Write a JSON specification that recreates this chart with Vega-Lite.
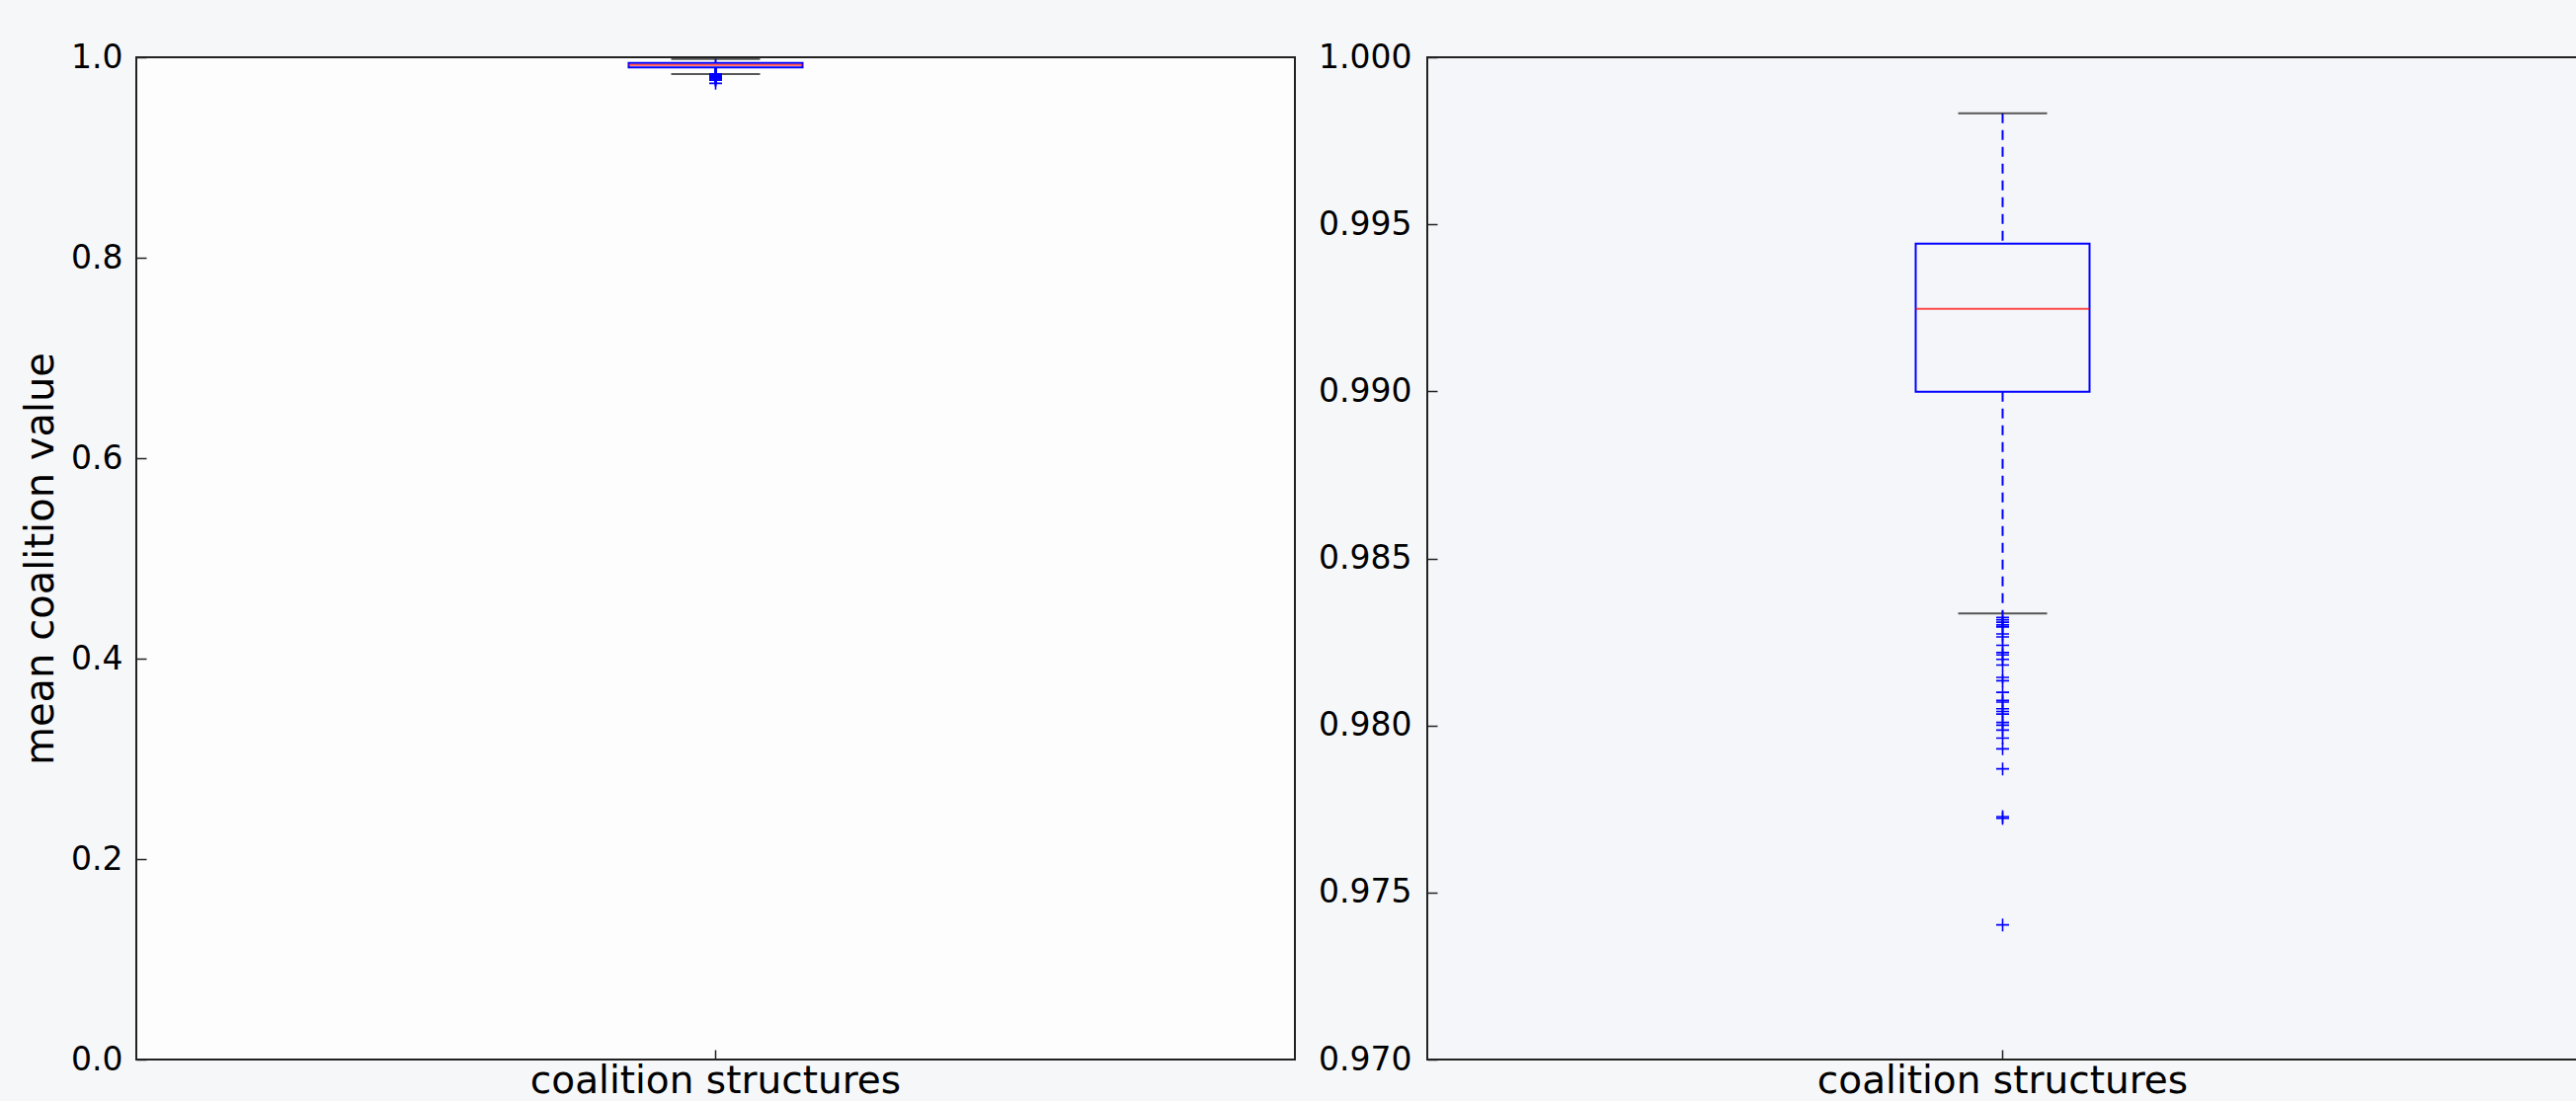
{
  "$schema": "https://vega.github.io/schema/vega-lite/v6.json",
  "autosize": {"type": "pad"},
  "padding": {"left": 20, "top": 41, "right": 0, "bottom": 0},
  "background": "#f6f7f9",
  "bounds": "flush",
  "spacing": 134,
  "datasets": {
    "stats": [
      {"cat": "coalition structures", "lower": 0.98335, "q1": 0.98999, "median": 0.99247, "q3": 0.99442, "upper": 0.99832}
    ],
    "outliers": [
      {"cat": "coalition structures", "value": 0.98323},
      {"cat": "coalition structures", "value": 0.98316},
      {"cat": "coalition structures", "value": 0.98309},
      {"cat": "coalition structures", "value": 0.98301},
      {"cat": "coalition structures", "value": 0.98295},
      {"cat": "coalition structures", "value": 0.98274},
      {"cat": "coalition structures", "value": 0.98265},
      {"cat": "coalition structures", "value": 0.98240},
      {"cat": "coalition structures", "value": 0.98218},
      {"cat": "coalition structures", "value": 0.98211},
      {"cat": "coalition structures", "value": 0.98198},
      {"cat": "coalition structures", "value": 0.98181},
      {"cat": "coalition structures", "value": 0.98144},
      {"cat": "coalition structures", "value": 0.98134},
      {"cat": "coalition structures", "value": 0.98099},
      {"cat": "coalition structures", "value": 0.98075},
      {"cat": "coalition structures", "value": 0.98070},
      {"cat": "coalition structures", "value": 0.98050},
      {"cat": "coalition structures", "value": 0.98042},
      {"cat": "coalition structures", "value": 0.98034},
      {"cat": "coalition structures", "value": 0.98009},
      {"cat": "coalition structures", "value": 0.98001},
      {"cat": "coalition structures", "value": 0.97986},
      {"cat": "coalition structures", "value": 0.97962},
      {"cat": "coalition structures", "value": 0.97930},
      {"cat": "coalition structures", "value": 0.97870},
      {"cat": "coalition structures", "value": 0.97727},
      {"cat": "coalition structures", "value": 0.97722},
      {"cat": "coalition structures", "value": 0.97403}
    ]
  },
  "config": {
    "font": "DejaVu Sans",
    "view": {"stroke": "#222222", "strokeWidth": 2},
    "axis": {
      "grid": false,
      "domain": false,
      "tickColor": "#222222",
      "tickSize": -10,
      "tickWidth": 1.5,
      "labelColor": "#000000",
      "labelFontSize": 33,
      "labelLimit": 0,
      "titleFontSize": 40,
      "titleFontWeight": "normal",
      "titleColor": "#000000"
    }
  },
  "hconcat": [
    {
      "width": 1173,
      "height": 1015,
      "view": {"fill": "#fdfdfe"},
      "encoding": {
        "x": {"field": "cat", "type": "nominal", "scale": {"paddingInner": 0, "paddingOuter": 0},
              "axis": {"title": null, "labelAngle": 0, "labelFontSize": 39, "labelPadding": 12, "labelLimit": 0}}
      },
      "layer": [
        {
          "data": {"name": "stats"},
          "mark": {"type": "rule", "color": "#0000ff", "strokeWidth": 2, "strokeDash": [10, 7]},
          "encoding": {
            "y": {"field": "upper", "type": "quantitative", "scale": {"domain": [0, 1], "nice": false, "zero": false},
                  "axis": {"title": "mean coalition value", "values": [0, 0.2, 0.4, 0.6, 0.8, 1.0], "format": ".1f", "labelPadding": 24, "titlePadding": 10}},
            "y2": {"field": "q3"}
          }
        },
        {
          "data": {"name": "stats"},
          "mark": {"type": "rule", "color": "#0000ff", "strokeWidth": 2, "strokeDash": [10, 7]},
          "encoding": {
            "y": {"field": "q1", "type": "quantitative", "scale": {"domain": [0, 1], "nice": false, "zero": false},
                  "axis": {"title": "mean coalition value", "values": [0, 0.2, 0.4, 0.6, 0.8, 1.0], "format": ".1f", "labelPadding": 24, "titlePadding": 10}},
            "y2": {"field": "lower"}
          }
        },
        {
          "data": {"name": "stats"},
          "mark": {"type": "bar", "width": 176, "fill": "transparent", "stroke": "#0000ff", "strokeWidth": 2},
          "encoding": {
            "y": {"field": "q1", "type": "quantitative", "scale": {"domain": [0, 1], "nice": false, "zero": false},
                  "axis": {"title": "mean coalition value", "values": [0, 0.2, 0.4, 0.6, 0.8, 1.0], "format": ".1f", "labelPadding": 24, "titlePadding": 10}},
            "y2": {"field": "q3"}
          }
        },
        {
          "data": {"name": "stats"},
          "mark": {"type": "tick", "color": "#ff0000", "size": 176, "thickness": 2},
          "encoding": {
            "y": {"field": "median", "type": "quantitative", "scale": {"domain": [0, 1], "nice": false, "zero": false},
                  "axis": {"title": "mean coalition value", "values": [0, 0.2, 0.4, 0.6, 0.8, 1.0], "format": ".1f", "labelPadding": 24, "titlePadding": 10}}
          }
        },
        {
          "data": {"name": "stats"},
          "mark": {"type": "tick", "color": "#111111", "size": 90, "thickness": 2},
          "encoding": {
            "y": {"field": "upper", "type": "quantitative", "scale": {"domain": [0, 1], "nice": false, "zero": false},
                  "axis": {"title": "mean coalition value", "values": [0, 0.2, 0.4, 0.6, 0.8, 1.0], "format": ".1f", "labelPadding": 24, "titlePadding": 10}}
          }
        },
        {
          "data": {"name": "stats"},
          "mark": {"type": "tick", "color": "#111111", "size": 90, "thickness": 2},
          "encoding": {
            "y": {"field": "lower", "type": "quantitative", "scale": {"domain": [0, 1], "nice": false, "zero": false},
                  "axis": {"title": "mean coalition value", "values": [0, 0.2, 0.4, 0.6, 0.8, 1.0], "format": ".1f", "labelPadding": 24, "titlePadding": 10}}
          }
        },
        {
          "data": {"name": "outliers"},
          "mark": {"type": "point", "shape": "M-1,0L1,0M0,-1L0,1", "size": 169, "filled": false, "stroke": "#0000ff", "strokeWidth": 1.6, "opacity": 1},
          "encoding": {
            "y": {"field": "value", "type": "quantitative", "scale": {"domain": [0, 1], "nice": false, "zero": false},
                  "axis": {"title": "mean coalition value", "values": [0, 0.2, 0.4, 0.6, 0.8, 1.0], "format": ".1f", "labelPadding": 24, "titlePadding": 10}}
          }
        }
      ]
    },
    {
      "width": 1165,
      "height": 1015,
      "view": {"fill": "#f5f6f9"},
      "encoding": {
        "x": {"field": "cat", "type": "nominal", "scale": {"paddingInner": 0, "paddingOuter": 0},
              "axis": {"title": null, "labelAngle": 0, "labelFontSize": 39, "labelPadding": 12, "labelLimit": 0}}
      },
      "layer": [
        {
          "data": {"name": "stats"},
          "mark": {"type": "rule", "color": "#0000ff", "strokeWidth": 2, "strokeDash": [10, 7]},
          "encoding": {
            "y": {"field": "upper", "type": "quantitative", "scale": {"domain": [0.97, 1.0], "nice": false, "zero": false},
                  "axis": {"title": null, "values": [0.97, 0.975, 0.98, 0.985, 0.99, 0.995, 1.0], "format": ".3f", "labelPadding": 26}},
            "y2": {"field": "q3"}
          }
        },
        {
          "data": {"name": "stats"},
          "mark": {"type": "rule", "color": "#0000ff", "strokeWidth": 2, "strokeDash": [10, 7]},
          "encoding": {
            "y": {"field": "q1", "type": "quantitative", "scale": {"domain": [0.97, 1.0], "nice": false, "zero": false},
                  "axis": {"title": null, "values": [0.97, 0.975, 0.98, 0.985, 0.99, 0.995, 1.0], "format": ".3f", "labelPadding": 26}},
            "y2": {"field": "lower"}
          }
        },
        {
          "data": {"name": "stats"},
          "mark": {"type": "bar", "width": 176, "fill": "transparent", "stroke": "#0000ff", "strokeWidth": 2},
          "encoding": {
            "y": {"field": "q1", "type": "quantitative", "scale": {"domain": [0.97, 1.0], "nice": false, "zero": false},
                  "axis": {"title": null, "values": [0.97, 0.975, 0.98, 0.985, 0.99, 0.995, 1.0], "format": ".3f", "labelPadding": 26}},
            "y2": {"field": "q3"}
          }
        },
        {
          "data": {"name": "stats"},
          "mark": {"type": "tick", "color": "#ff0000", "size": 176, "thickness": 2},
          "encoding": {
            "y": {"field": "median", "type": "quantitative", "scale": {"domain": [0.97, 1.0], "nice": false, "zero": false},
                  "axis": {"title": null, "values": [0.97, 0.975, 0.98, 0.985, 0.99, 0.995, 1.0], "format": ".3f", "labelPadding": 26}}
          }
        },
        {
          "data": {"name": "stats"},
          "mark": {"type": "tick", "color": "#111111", "size": 90, "thickness": 2},
          "encoding": {
            "y": {"field": "upper", "type": "quantitative", "scale": {"domain": [0.97, 1.0], "nice": false, "zero": false},
                  "axis": {"title": null, "values": [0.97, 0.975, 0.98, 0.985, 0.99, 0.995, 1.0], "format": ".3f", "labelPadding": 26}}
          }
        },
        {
          "data": {"name": "stats"},
          "mark": {"type": "tick", "color": "#111111", "size": 90, "thickness": 2},
          "encoding": {
            "y": {"field": "lower", "type": "quantitative", "scale": {"domain": [0.97, 1.0], "nice": false, "zero": false},
                  "axis": {"title": null, "values": [0.97, 0.975, 0.98, 0.985, 0.99, 0.995, 1.0], "format": ".3f", "labelPadding": 26}}
          }
        },
        {
          "data": {"name": "outliers"},
          "mark": {"type": "point", "shape": "M-1,0L1,0M0,-1L0,1", "size": 169, "filled": false, "stroke": "#0000ff", "strokeWidth": 1.6, "opacity": 1},
          "encoding": {
            "y": {"field": "value", "type": "quantitative", "scale": {"domain": [0.97, 1.0], "nice": false, "zero": false},
                  "axis": {"title": null, "values": [0.97, 0.975, 0.98, 0.985, 0.99, 0.995, 1.0], "format": ".3f", "labelPadding": 26}}
          }
        }
      ]
    }
  ]
}
